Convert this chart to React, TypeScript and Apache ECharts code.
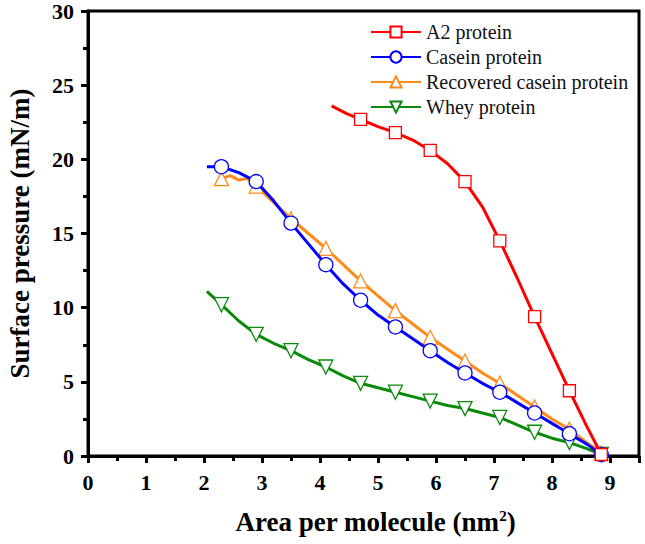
import React, { useRef, useEffect } from 'react';
import * as echarts from 'echarts';

// [x, y, showMarker]
const a2Protein: [number, number, number][] = [
  [4.2, 23.6, 0], [4.45, 23.1, 0], [4.7, 22.7, 1], [5.0, 22.2, 0], [5.3, 21.8, 1],
  [5.6, 21.3, 0], [5.9, 20.6, 1], [6.2, 19.7, 0], [6.5, 18.5, 1], [6.8, 16.8, 0],
  [7.1, 14.5, 1], [7.4, 12.0, 0], [7.7, 9.4, 1], [8.0, 6.9, 0], [8.3, 4.4, 1],
  [8.6, 2.0, 0], [8.85, 0.1, 1],
];
const caseinProtein: [number, number, number][] = [
  [2.05, 19.5, 0], [2.3, 19.5, 1], [2.6, 19.1, 0], [2.9, 18.5, 1], [3.2, 17.2, 0],
  [3.5, 15.7, 1], [3.8, 14.3, 0], [4.1, 12.9, 1], [4.4, 11.6, 0], [4.7, 10.5, 1],
  [5.0, 9.5, 0], [5.3, 8.7, 1], [5.6, 7.9, 0], [5.9, 7.1, 1], [6.2, 6.3, 0],
  [6.5, 5.6, 1], [6.8, 4.9, 0], [7.1, 4.3, 1], [7.4, 3.6, 0], [7.7, 2.9, 1],
  [8.0, 2.2, 0], [8.3, 1.5, 1], [8.6, 0.8, 0], [8.85, 0.1, 1],
];
const recoveredCasein: [number, number, number][] = [
  [2.3, 18.7, 1], [2.45, 18.9, 0], [2.6, 18.6, 0], [2.75, 18.7, 0], [2.9, 18.2, 1],
  [3.2, 17.1, 0], [3.5, 16.0, 1], [3.8, 15.0, 0], [4.1, 14.0, 1], [4.4, 12.9, 0],
  [4.7, 11.8, 1], [5.0, 10.8, 0], [5.3, 9.8, 1], [5.6, 8.9, 0], [5.9, 8.0, 1],
  [6.2, 7.2, 0], [6.5, 6.4, 1], [6.8, 5.6, 0], [7.1, 4.9, 1], [7.4, 4.1, 0],
  [7.7, 3.3, 1], [8.0, 2.5, 0], [8.3, 1.8, 1], [8.6, 0.9, 0], [8.85, 0.2, 1],
];
const wheyProtein: [number, number, number][] = [
  [2.05, 11.1, 0], [2.3, 10.2, 1], [2.6, 9.1, 0], [2.9, 8.2, 1], [3.2, 7.6, 0],
  [3.5, 7.1, 1], [3.8, 6.5, 0], [4.1, 6.0, 1], [4.4, 5.4, 0], [4.7, 4.9, 1],
  [5.0, 4.6, 0], [5.3, 4.3, 1], [5.6, 4.0, 0], [5.9, 3.7, 1], [6.2, 3.4, 0],
  [6.5, 3.2, 1], [6.8, 2.9, 0], [7.1, 2.6, 1], [7.4, 2.1, 0], [7.7, 1.6, 1],
  [8.0, 1.2, 0], [8.3, 0.9, 1], [8.6, 0.5, 0], [8.85, 0.1, 1],
];

const seriesNames = ['A2 protein', 'Casein protein', 'Recovered casein protein', 'Whey protein'];
const seriesColors = ['#ff0000', '#0000ff', '#ff8c1a', '#0a8a0a'];
const seriesSymbols = ['rect', 'circle', 'triangle', 'path://M0,0 L10,0 L5,9 Z'];
const seriesData = [a2Protein, caseinProtein, recoveredCasein, wheyProtein];

const SERIF = "'Liberation Serif', 'Times New Roman', serif";

const App: React.FC = () => {
  const chartRef = useRef<HTMLDivElement>(null);

  useEffect(() => {
    if (!chartRef.current) return;
    const chart = echarts.init(chartRef.current, undefined, { renderer: 'svg' });

    const series = seriesData.map((d, i) => ({
      name: seriesNames[i],
      type: 'line' as const,
      symbol: seriesSymbols[i],
      symbolSize: i === 0 ? 12 : 14,
      color: seriesColors[i],
      lineStyle: { width: 3, color: seriesColors[i] },
      itemStyle: { color: '#fff', borderColor: seriesColors[i], borderWidth: 1.3 },
      showAllSymbol: true,
      data: d.map(([x, y, m]) =>
        m ? { value: [x, y] } : { value: [x, y], symbol: 'none' }
      ),
      z: 10 - i,
    }));

    chart.setOption({
      animation: false,
      backgroundColor: '#fff',
      textStyle: { fontFamily: SERIF },
      grid: {
        left: 88, right: 6, top: 11, bottom: 88,
        containLabel: false, outerBoundsMode: 'none',
        show: true, borderColor: '#000', borderWidth: 3,
      },
      legend: {
        left: 365, top: 17, orient: 'vertical',
        itemWidth: 50, itemHeight: 14, itemGap: 5,
        textStyle: { fontFamily: SERIF, fontSize: 20, color: '#111' },
        data: seriesNames,
      },
      xAxis: {
        type: 'value', min: 0, max: 9.5, interval: 1,
        name: 'Area per molecule (nm{sup|2})',
        nameLocation: 'middle', nameGap: 52,
        nameTextStyle: {
          fontFamily: SERIF, fontSize: 27, fontWeight: 'bold', color: '#000',
          padding: [0, 0, 0, 24],
          rich: { sup: { fontFamily: SERIF, fontSize: 15, fontWeight: 'bold', verticalAlign: 'top', padding: [0, 0, 12, 0] } },
        },
        axisLine: { show: true, lineStyle: { color: '#000', width: 3 } },
        axisTick: { show: true, inside: false, length: 7, lineStyle: { width: 3, color: '#000' } },
        minorTick: { show: true, splitNumber: 2, length: 5, lineStyle: { width: 3, color: '#000' } },
        axisLabel: {
          fontFamily: SERIF, fontSize: 22, fontWeight: 'bold', color: '#000', margin: 15,
          showMaxLabel: false,
          formatter: (v: number) => (Number.isInteger(v) ? String(v) : ''),
        },
        splitLine: { show: false },
      },
      yAxis: {
        type: 'value', min: 0, max: 30, interval: 5,
        name: 'Surface pressure (mN/m)',
        nameLocation: 'middle', nameGap: 55,
        nameTextStyle: { fontFamily: SERIF, fontSize: 27, fontWeight: 'bold', color: '#000' },
        axisLine: { show: true, lineStyle: { color: '#000', width: 3 } },
        axisTick: { show: true, inside: false, length: 7, lineStyle: { width: 3, color: '#000' } },
        minorTick: { show: true, splitNumber: 2, length: 5, lineStyle: { width: 3, color: '#000' } },
        axisLabel: { fontFamily: SERIF, fontSize: 22, fontWeight: 'bold', color: '#000', margin: 14 },
        splitLine: { show: false },
      },
      series,
    });

    return () => chart.dispose();
  }, []);

  return (
    <div
      ref={chartRef}
      style={{ position: 'absolute', left: 0, top: 0, width: 645, height: 544 }}
    />
  );
};

export default App;
